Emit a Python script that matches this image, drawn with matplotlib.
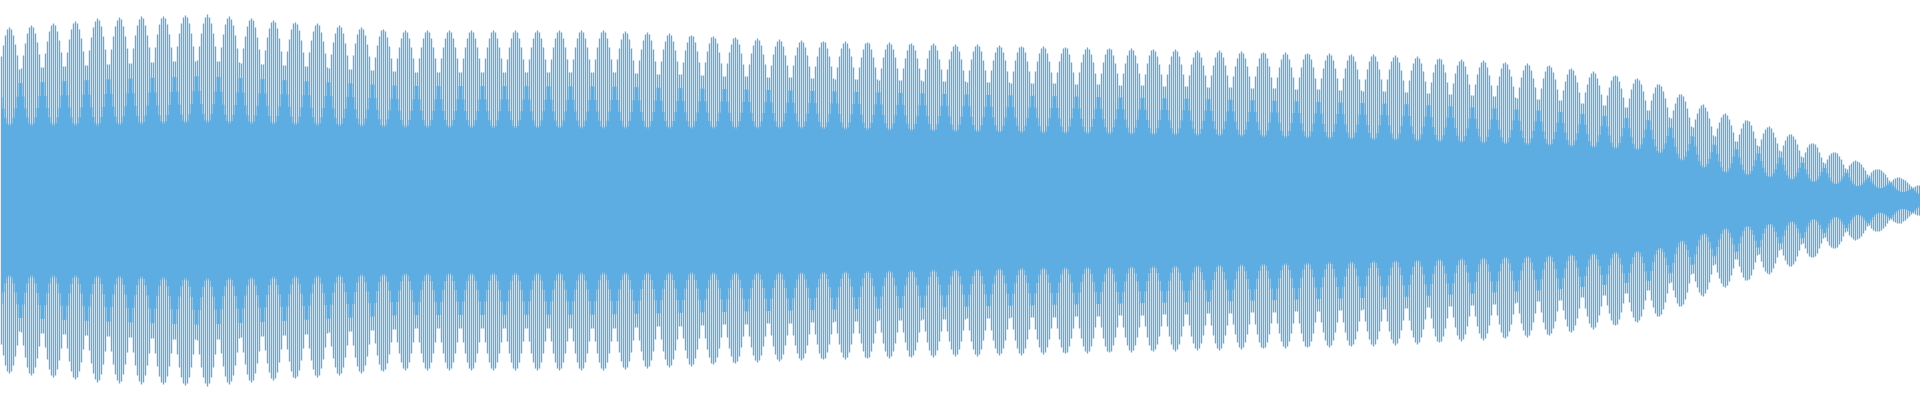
import numpy as np
import matplotlib
matplotlib.use("Agg")
import matplotlib.pyplot as plt

# Enveloppe (x en px sur 1920, y en px depuis le haut, centre a 200)
knot_x = [0, 100, 200, 400, 600, 800, 1000, 1200, 1400, 1550, 1650, 1714, 1780, 1837, 1880, 1920]
outer_top = [28, 18, 14, 30, 30, 40, 45, 50, 55, 65, 80, 110, 130, 153, 170, 185]
inner_top = [125, 125, 122, 127, 128, 128, 132, 135, 140, 145, 150, 171, 178, 184, 188, 195]

n_bars = 960
lobe_bars = 11
couleur = "#5dade2"

# Construire les barres
pos = np.arange(n_bars)
px = pos * 1920 / n_bars
h_out = 200 - np.interp(px, knot_x, outer_top)
h_in = 200 - np.interp(px, knot_x, inner_top)
base = (h_out + h_in) / 2
amp = (h_out - h_in) / 2
lobe = np.abs(np.sin(np.pi * (pos + 1.5) / lobe_bars))
haut = base + amp * lobe
bas = base - amp * lobe

fig = plt.figure(figsize=(19.2, 4), dpi=100)
ax = fig.add_axes([0, 0, 1, 1])
ax.fill_between(pos, -bas, bas, step="mid", color=couleur, linewidth=0)
ax.vlines(pos, -haut, haut, color=couleur, linewidth=1.0)

ax.set_xlim(-0.5, n_bars - 0.5)
ax.set_ylim(-200, 200)
ax.axis("off")
fig.savefig("out.png", dpi=100)
